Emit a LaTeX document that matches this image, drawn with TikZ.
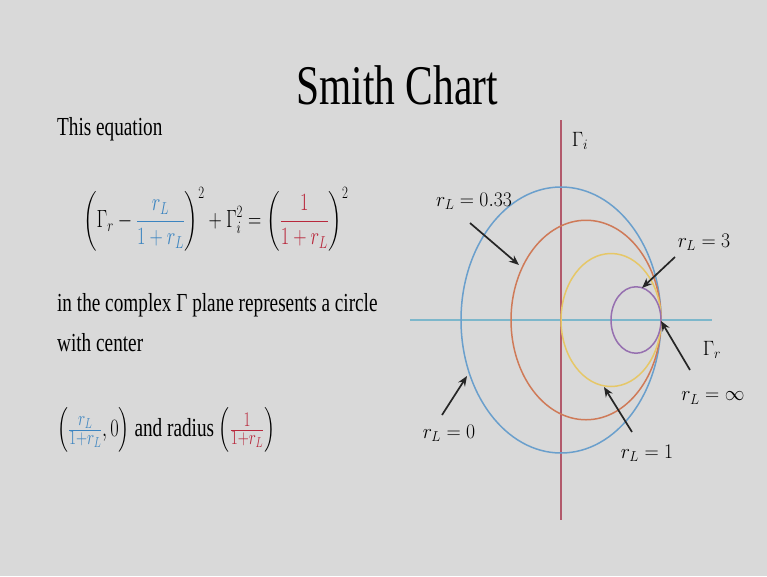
\documentclass[tikz,border=0pt]{standalone}
\usepackage{amsmath}
\usepackage{fontspec}
\setmainfont{Liberation Serif}
\usepackage{tikz}
\usetikzlibrary{arrows.meta}
\definecolor{SlideGray}{HTML}{D9D9D9}
\definecolor{SmithBlue}{HTML}{6A9FCC}
\definecolor{SmithOrange}{HTML}{CF7A58}
\definecolor{SmithYellow}{HTML}{E6C767}
\definecolor{SmithPurple}{HTML}{9670B0}
\definecolor{AxisRed}{HTML}{B2596B}
\definecolor{AxisCyan}{HTML}{7DB7CB}
\definecolor{EqBlue}{HTML}{3C84C0}
\definecolor{EqRed}{HTML}{B8283C}
\tikzset{
  >={Stealth[length=10pt,width=8pt]},
  pointer/.style={->,line width=1.7pt,draw=black!85},
  axis/.style={line width=1.2pt},
  smithcircle/.style={line width=1.5pt},
  slidetext/.style={xscale=0.74,inner sep=0pt,font=\fontsize{26}{40}\selectfont},
  chartlabel/.style={xscale=0.95,inner sep=0pt,font=\fontsize{22}{26}\selectfont}
}

\begin{document}
\begin{tikzpicture}[x=1pt,y=-1pt]
  \fill[SlideGray] (0,0) rectangle (767,576);
  \useasboundingbox (0,0) rectangle (767,576);
  % title and text
  \node[slidetext,font=\fontsize{56}{60}\selectfont,anchor=base] (title) at (397,104) {Smith Chart};
  \node[slidetext,anchor=base west] (intro) at (57,135) {This equation};
  \node[slidetext,font=\fontsize{27}{32}\selectfont,anchor=west] (eqn) at (83,219)
    {$\displaystyle\left(\Gamma_r-{\color{EqBlue}\frac{r_L}{1+r_L}}\right)^{2}+\Gamma_i^2=\left({\color{EqRed}\frac{1}{1+r_L}}\right)^{2}$};
  \node[slidetext,anchor=north west,align=left] (plane) at (57,293)
    {in the complex Γ plane represents a circle\\with center};
  \node[slidetext,anchor=west] (center) at (57,430)
    {{\fontsize{30}{36}\selectfont$\left({\color{EqBlue}\frac{r_L}{1+r_L}},0\right)$} and radius
     {\fontsize{30}{36}\selectfont$\left({\color{EqRed}\frac{1}{1+r_L}}\right)$}};
  % axes
  \coordinate (reW) at (410,320);
  \coordinate (reE) at (712,320);
  \coordinate (imN) at (561,120);
  \coordinate (imS) at (561,520);
  \draw[axis,AxisCyan] (reW) -- (reE);
  \draw[axis,AxisRed] (imN) -- (imS);
  % constant resistance circles
  \foreach \r/\col in {0/SmithBlue,0.3333/SmithOrange,1/SmithYellow,3/SmithPurple}
    \draw[smithcircle,\col] ({561+100*\r/(1+\r)},320) ellipse [x radius={100/(1+\r)},y radius={133/(1+\r)}];
  % labels
  \node[chartlabel] (gi) at (580,141) {$\Gamma_i$};
  \node[chartlabel] (gr) at (712,350) {$\Gamma_r$};
  \node[chartlabel] (lbl033) at (474,201) {$r_L = 0.33$};
  \node[chartlabel] (lbl3) at (704,242) {$r_L = 3$};
  \node[chartlabel] (lblinf) at (713,398) {$r_L = \infty$};
  \node[chartlabel] (lbl1) at (647,453) {$r_L = 1$};
  \node[chartlabel] (lbl0) at (449,433) {$r_L = 0$};
  % pointers
  \coordinate (t033) at (470,223); \coordinate (h033) at (519,265);
  \coordinate (t3) at (675,257);   \coordinate (h3) at (642,288);
  \coordinate (tinf) at (690,370); \coordinate (hinf) at (661,321);
  \coordinate (t1) at (632,432);   \coordinate (h1) at (604,387);
  \coordinate (t0) at (442,415);   \coordinate (h0) at (467,376);
  \draw[pointer] (t033) -- (h033);
  \draw[pointer] (t3) -- (h3);
  \draw[pointer] (tinf) -- (hinf);
  \draw[pointer] (t1) -- (h1);
  \draw[pointer] (t0) -- (h0);
\end{tikzpicture}
\end{document}
